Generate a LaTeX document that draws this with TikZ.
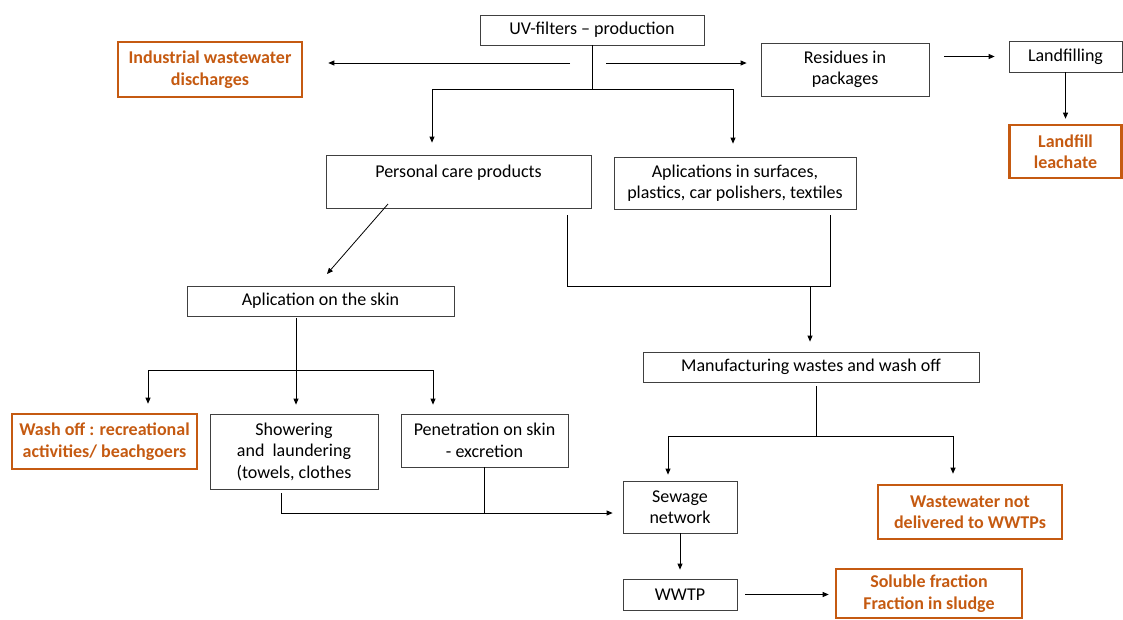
\documentclass[tikz,border=0pt]{standalone}
\usepackage{fontspec}
\setmainfont{Carlito}
\usetikzlibrary{arrows.meta}
\definecolor{rust}{RGB}{197,90,17}

\begin{document}
\begin{tikzpicture}[x=1pt,y=-1pt,>={Triangle[length=6pt,width=5pt]},line width=0.8pt,
    main node/.style={draw=black!75,rectangle,inner sep=0pt,align=center,font=\fontsize{18}{21.5}\selectfont},
    sink node/.style={draw=rust,line width=2.6pt,rectangle,inner sep=0pt,align=center,text=rust,font=\fontsize{18}{21.5}\selectfont\bfseries}]

            \useasboundingbox (0,0) rectangle (1123,619);

            \node[main node, minimum width=224, minimum height=30] (uv) at (592,30) {UV-filters -- production};
            \node[sink node, minimum width=184, minimum height=55] (ind) at (210,69.5) {Industrial wastewater\\discharges};
            \node[main node, minimum width=168, minimum height=53] (res) at (845,69.5) {Residues in\\packages};
            \node[main node, minimum width=113, minimum height=31] (landf) at (1065.5,56.5) {Landfilling};
            \node[sink node, minimum width=112, minimum height=53] (leach) at (1065.5,151.5) {Landfill\\leachate};

            \node[main node, minimum width=265, minimum height=53] (pcp) at (458.5,181.5) {Personal care products\\\mbox{}};
            \node[main node, minimum width=242, minimum height=52] (apl) at (735,183) {Aplications in surfaces,\\plastics, car polishers, textiles};
            \node[main node, minimum width=267, minimum height=30] (skin) at (320.5,301) {Aplication on the skin};
            \node[main node, minimum width=336, minimum height=30] (manu) at (811,367) {Manufacturing wastes and wash off};

            \node[sink node, minimum width=185, minimum height=55] (wash) at (104.5,441.5) {Wash off : recreational\\activities/ beachgoers};
            \node[main node, minimum width=168, minimum height=75] (show) at (294,451.5) {Showering\\and~ laundering\\(towels, clothes};
            \node[main node, minimum width=167, minimum height=53] (pen) at (484.5,440.5) {Penetration on skin\\- excretion};

            \node[main node, minimum width=114, minimum height=52] (sew) at (680,507) {Sewage\\network};
            \node[sink node, minimum width=184, minimum height=54] (wwnd) at (970,512) {Wastewater not\\delivered to WWTPs};
            \node[main node, minimum width=114, minimum height=31] (wwtp) at (680,594.5) {WWTP};
            \node[sink node, minimum width=186, minimum height=49] (sol) at (929,593.5) {Soluble fraction\\Fraction in sludge};

            % junction points
            \coordinate (s1) at (592,89);
            \coordinate (s2) at (432,89);
            \coordinate (s3) at (733,89);
            \coordinate (l1) at (570,63);
            \coordinate (r1) at (606,63);
            \coordinate (d1) at (388,204);
            \coordinate (d2) at (327,274);
            \coordinate (u1) at (567,215);
            \coordinate (u2) at (830,215);
            \coordinate (u3) at (567,286);
            \coordinate (u4) at (810,286);
            \coordinate (k1) at (296,318);
            \coordinate (k2) at (148,370);
            \coordinate (k3) at (433,370);
            \coordinate (b1) at (281,493);
            \coordinate (b2) at (281,513);
            \coordinate (m1) at (816,386);
            \coordinate (m2) at (816,436);
            \coordinate (m3) at (668,436);
            \coordinate (m4) at (953,436);

            \draw (uv) -- (s1);
            \draw (s2) -- (s3);
            \draw[->, shorten >=12pt] (s2) -- (s2 |- pcp.north);
            \draw[->, shorten >=13pt] (s3) -- (s3 |- apl.north);
            \draw[->, shorten >=25pt] (l1) -- (l1 -| ind.east);
            \draw[->, shorten >=14pt] (r1) -- (r1 -| res.west);
            \draw[->, shorten <=15pt, shorten >=14pt] (res.east |- landf) -- (landf.west);
            \draw[->, shorten >=5pt] (landf) -- (leach);

            \draw[->] (d1) -- (d2);
            \draw (u1) -- (u3) -| (u2);
            \draw[->, shorten >=10pt] (u4) -- (u4 |- manu.north);

            \draw[->, shorten >=9pt] (k1) -- (k1 |- show.north);
            \draw (k2) -- (k3);
            \draw[->, shorten >=9pt] (k2) -- (k2 |- wash.north);
            \draw[->, shorten >=9pt] (k3) -- (k3 |- pen.north);

            \draw[->, shorten >=10pt] (b1) -- (b2) -- (b2 -| sew.west);
            \draw (pen.south) -- (pen.south |- b2);

            \draw (m1) -- (m2);
            \draw (m3) -- (m4);
            \draw[->, shorten >=6pt] (m3) -- (m3 |- sew.north);
            \draw[->, shorten >=10pt] (m4) -- (m4 |- wwnd.north);

            \draw[->, shorten >=9pt] (sew) -- (wwtp);
            \draw[->, shorten <=8pt, shorten >=6pt] (wwtp.east) -- (sol.west |- wwtp.east);
        \end{tikzpicture}
\end{document}
